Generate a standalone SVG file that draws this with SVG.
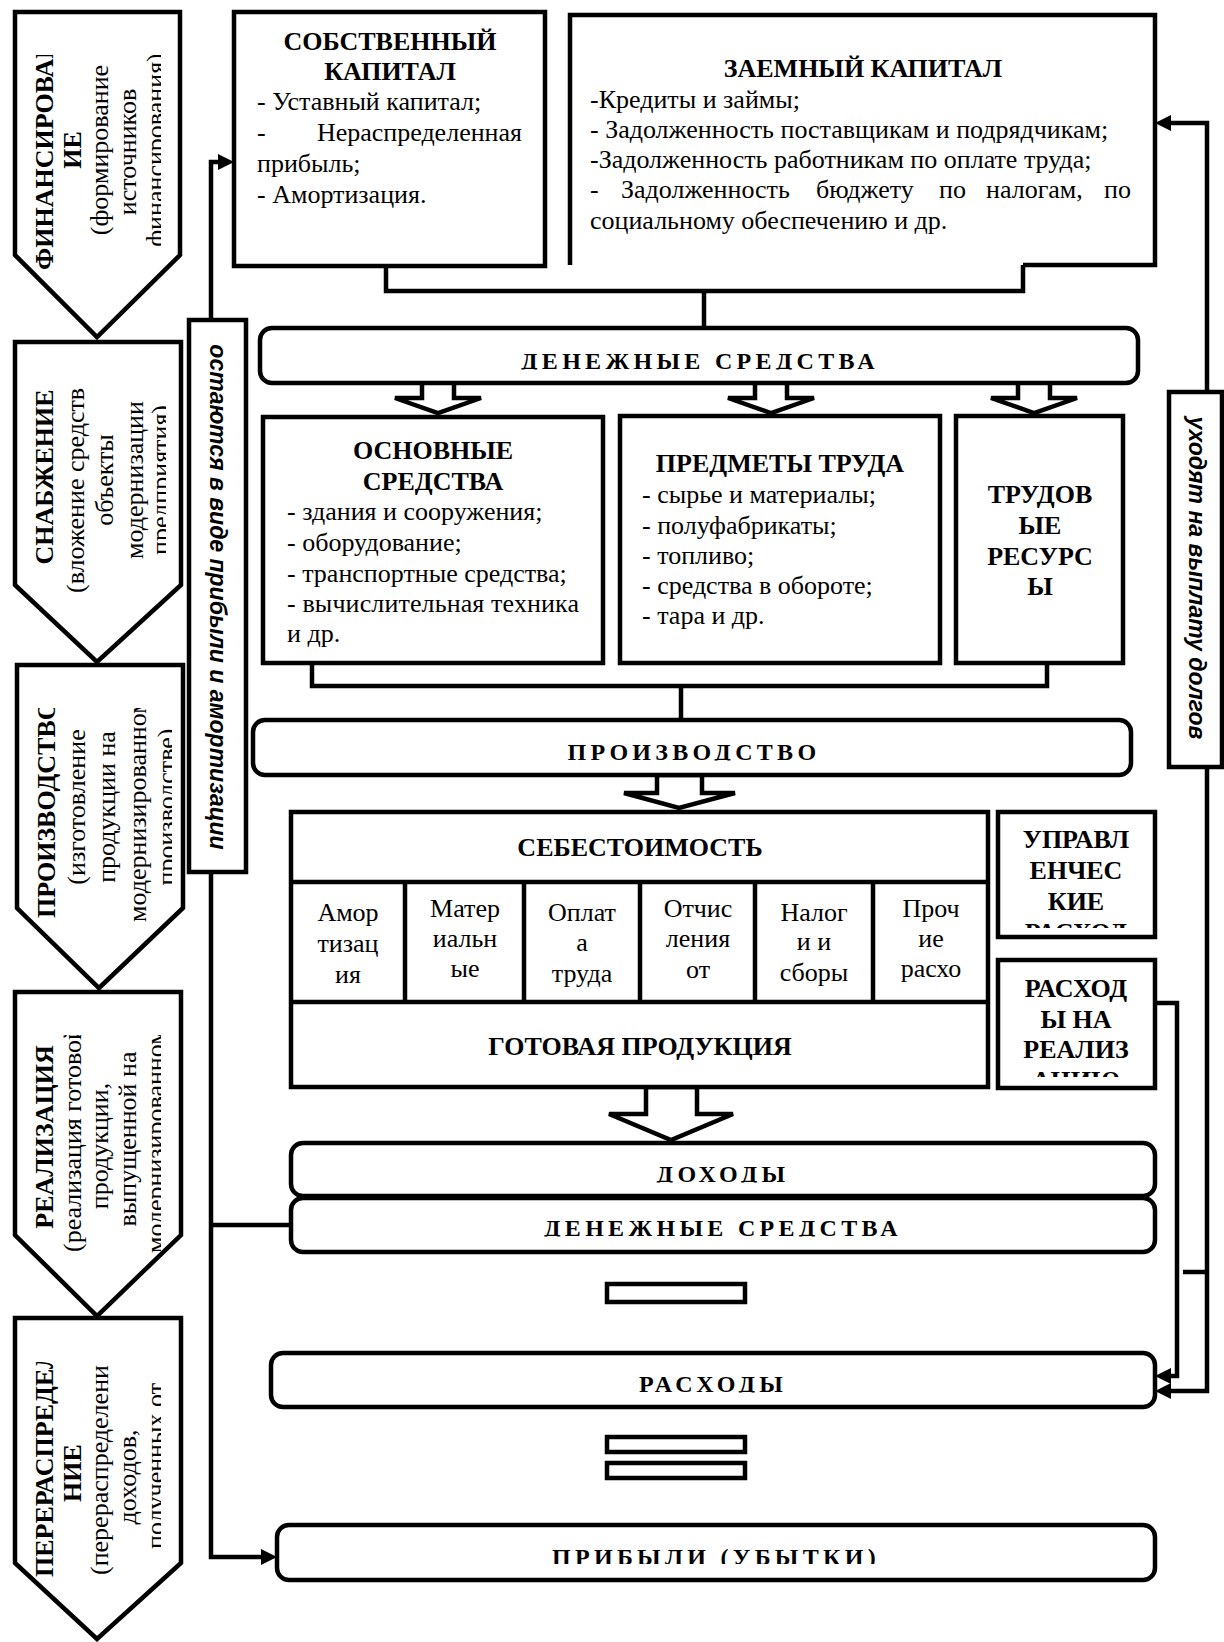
<svg xmlns="http://www.w3.org/2000/svg" width="1224" height="1642" viewBox="0 0 1224 1642">
<style>
.box{fill:#fff;stroke:#000;stroke-width:4.5}
.ln{fill:none;stroke:#000;stroke-width:4.5}
.t{font-family:"Liberation Serif","DejaVu Serif",serif;font-size:26px;fill:#000}
.c{font-size:26px}
.b{font-weight:bold}
.m{text-anchor:middle}
.e{text-anchor:end}
.hd{font-family:"Liberation Serif","DejaVu Serif",serif;font-size:24px;font-weight:bold;letter-spacing:4.3px;text-anchor:middle}
.it{font-family:"Liberation Sans",Arial,sans-serif;font-size:23px;font-weight:bold;font-style:italic;text-anchor:middle}
</style>
<defs>
<marker id="ah" viewBox="0 0 16 16" refX="8" refY="8" markerWidth="16" markerHeight="16" markerUnits="userSpaceOnUse" orient="auto"><path d="M0,0 L16,8 L0,16 Z"/></marker>
<clipPath id="c1"><rect x="15" y="55" width="146" height="285"/></clipPath>
<clipPath id="c2"><rect x="15" y="385" width="151" height="280"/></clipPath>
<clipPath id="c3"><rect x="15" y="708" width="157" height="283"/></clipPath>
<clipPath id="c4"><rect x="15" y="1035" width="146" height="283"/></clipPath>
<clipPath id="c5"><rect x="15" y="1362" width="146" height="280"/></clipPath>
<clipPath id="cu"><rect x="1000" y="814" width="153" height="114"/></clipPath>
<clipPath id="cr"><rect x="1000" y="962" width="153" height="115"/></clipPath>
<clipPath id="hD1"><rect x="260" y="329" width="878" height="40.5"/></clipPath>
<clipPath id="hP"><rect x="254" y="722" width="876" height="38.5"/></clipPath>
<clipPath id="hDx"><rect x="292" y="1145" width="862" height="37.5"/></clipPath>
<clipPath id="hD2"><rect x="292" y="1200" width="862" height="36.5"/></clipPath>
<clipPath id="hR"><rect x="272" y="1354" width="882" height="38.5"/></clipPath>
<clipPath id="hPr"><rect x="278" y="1527" width="876" height="37"/></clipPath>
</defs>

<!-- Left process chevrons -->
<g id="n-financing">
<path class="box" d="M15,12 H180 V255 L97,337 L15,255 Z"/>
<g clip-path="url(#c1)" class="t">
<text class="b" transform="translate(53,270) rotate(-90)">ФИНАНСИРОВАН</text>
<text class="b m" transform="translate(81,150) rotate(-90)">ИЕ</text>
<text class="c m" transform="translate(108,150) rotate(-90)">(формирование</text>
<text class="c m" transform="translate(136,152) rotate(-90)">источников</text>
<text class="c m" transform="translate(164,150) rotate(-90)">финансирования)</text>
</g>
</g>
<g id="n-supply">
<path class="box" d="M15,342 H181 V585 L97,662 L15,585 Z"/>
<g clip-path="url(#c2)" class="t">
<text class="b m" transform="translate(53,477) rotate(-90)">СНАБЖЕНИЕ</text>
<text class="c" transform="translate(84,593) rotate(-90)">(вложение средств</text>
<text class="c m" transform="translate(113,480) rotate(-90)">объекты</text>
<text class="c m" transform="translate(143,480) rotate(-90)">модернизации</text>
<text class="c m" transform="translate(169,480) rotate(-90)">предприятия)</text>
</g>
</g>
<g id="n-production-stage">
<path class="box" d="M17,665 H183 V908 L99,988 L17,908 Z"/>
<g clip-path="url(#c3)" class="t">
<text class="b" transform="translate(55,918) rotate(-90)">ПРОИЗВОДСТВО</text>
<text class="c m" transform="translate(85,807) rotate(-90)">(изготовление</text>
<text class="c m" transform="translate(115,807) rotate(-90)">продукции на</text>
<text class="c" transform="translate(146,922) rotate(-90)">модернизированном</text>
<text class="c m" transform="translate(175,807) rotate(-90)">производстве)</text>
</g>
</g>
<g id="n-sales">
<path class="box" d="M15,992 H181 V1235 L97,1316 L15,1235 Z"/>
<g clip-path="url(#c4)" class="t">
<text class="b m" transform="translate(53,1137) rotate(-90)">РЕАЛИЗАЦИЯ</text>
<text class="c" transform="translate(81,1252) rotate(-90)">(реализация готовой</text>
<text class="c m" transform="translate(108,1146) rotate(-90)">продукции,</text>
<text class="c m" transform="translate(136,1139) rotate(-90)">выпущенной на</text>
<text class="c" transform="translate(164,1253) rotate(-90)">модернизированном</text>
</g>
</g>
<g id="n-redistribution">
<path class="box" d="M15,1318 H181 V1563 L97,1639 L15,1563 Z"/>
<g clip-path="url(#c5)" class="t">
<text class="b" transform="translate(53,1577) rotate(-90)">ПЕРЕРАСПРЕДЕЛЕ</text>
<text class="b m" transform="translate(81,1473) rotate(-90)">НИЕ</text>
<text class="c" transform="translate(108,1575) rotate(-90)">(перераспределени</text>
<text class="c m" transform="translate(136,1477) rotate(-90)">доходов,</text>
<text class="c m" transform="translate(164,1466) rotate(-90)">полученных от</text>
</g>
</g>

<!-- Connectors -->
<g id="connectors">
<path class="ln" d="M211,322 V162 H226" marker-end="url(#ah)"/>
<path class="ln" d="M211,873 V1557 H269" marker-end="url(#ah)"/>
<path class="ln" d="M211,1225 H292"/>
<path class="ln" d="M1207,392 V123 H1163" marker-end="url(#ah)"/>
<path class="ln" d="M1207,767 V1391 H1163" marker-end="url(#ah)"/>
<path class="ln" d="M1155,1003 H1177 V1376 H1163" marker-end="url(#ah)"/>
<path class="ln" d="M1183,1272 H1207"/>
<path class="ln" d="M386,267 V291 H1023 V265"/>
<path class="ln" d="M704,291 V326"/>
<path class="ln" d="M312,663 V686 H1047 V663"/>
<path class="ln" d="M681,686 V719"/>
<polygon class="box" points="422,382 454,382 454,398 481,398 438,413 395,398 422,398"/>
<polygon class="box" points="755,382 787,382 787,398 814,398 771,413 728,398 755,398"/>
<polygon class="box" points="1018,382 1050,382 1050,398 1077,398 1034,413 991,398 1018,398"/>
<polygon class="box" points="657,775 702,775 702,793 735,793 679,808 624,793 657,793"/>
<polygon class="box" points="646,1087 697,1087 697,1114 733,1114 671,1140 609,1114 646,1114"/>
<rect class="box" x="607" y="1284" width="138" height="18"/>
<rect class="box" x="607" y="1437" width="138" height="15"/>
<rect class="box" x="607" y="1463" width="138" height="15"/>
</g>

<!-- Vertical labels -->
<g id="n-retained">
<rect class="box" x="189" y="320" width="57" height="552"/>
<text class="it" transform="translate(210,597) rotate(90)">остаются в виде прибыли и амортизации</text>
</g>
<g id="n-debts">
<rect class="box" x="1169" y="392" width="53" height="375"/>
<text class="it" transform="translate(1189,578) rotate(90)">уходят на выплату долгов</text>
</g>

<!-- Capital -->
<g id="n-equity" class="t">
<rect class="box" x="234" y="12" width="311" height="254"/>
<text class="b m" x="390" y="50">СОБСТВЕННЫЙ</text>
<text class="b m" x="390" y="80">КАПИТАЛ</text>
<text x="257" y="110">- Уставный капитал;</text>
<text x="257" y="141">-</text>
<text class="e" x="522" y="141">Нераспределенная</text>
<text x="257" y="172">прибыль;</text>
<text x="257" y="203">- Амортизация.</text>
</g>
<g id="n-debt-capital" class="t">
<path class="box" d="M570,265 V15 H1155 V265 H1023"/>
<text class="b m" x="863" y="77">ЗАЕМНЫЙ КАПИТАЛ</text>
<text x="590" y="108">-Кредиты и займы;</text>
<text x="590" y="138">- Задолженность поставщикам и подрядчикам;</text>
<text x="590" y="168">-Задолженность работникам по оплате труда;</text>
<text x="590" y="198">-</text>
<text x="621" y="198">Задолженность</text>
<text x="816" y="198">бюджету</text>
<text x="939" y="198">по</text>
<text x="986" y="198">налогам,</text>
<text class="e" x="1131" y="198">по</text>
<text x="590" y="229">социальному обеспечению и др.</text>
</g>

<g id="n-cash1">
<rect class="box" x="260" y="328" width="878" height="55" rx="12"/>
<text class="hd" x="700" y="369" clip-path="url(#hD1)">ДЕНЕЖНЫЕ СРЕДСТВА</text>
</g>

<g id="n-fixed-assets" class="t">
<rect class="box" x="263" y="417" width="340" height="246"/>
<text class="b m" x="433" y="459">ОСНОВНЫЕ</text>
<text class="b m" x="433" y="490">СРЕДСТВА</text>
<text x="287" y="520">- здания и сооружения;</text>
<text x="287" y="551">- оборудование;</text>
<text x="287" y="582">- транспортные средства;</text>
<text x="287" y="612" textLength="292" lengthAdjust="spacing">- вычислительная техника</text>
<text x="287" y="642">и др.</text>
</g>
<g id="n-labor-objects" class="t">
<rect class="box" x="620" y="416" width="320" height="247"/>
<text class="b m" x="780" y="472">ПРЕДМЕТЫ ТРУДА</text>
<text x="642" y="503">- сырье и материалы;</text>
<text x="642" y="534">- полуфабрикаты;</text>
<text x="642" y="564">- топливо;</text>
<text x="642" y="594">- средства в обороте;</text>
<text x="642" y="624">- тара и др.</text>
</g>
<g id="n-labor-resources" class="t">
<rect class="box" x="956" y="416" width="167" height="247"/>
<text class="b m" x="1040" y="503">ТРУДОВ</text>
<text class="b m" x="1040" y="534">ЫЕ</text>
<text class="b m" x="1040" y="565">РЕСУРС</text>
<text class="b m" x="1040" y="595">Ы</text>
</g>

<g id="n-production">
<rect class="box" x="253" y="720" width="878" height="55" rx="12"/>
<text class="hd" x="694" y="760" clip-path="url(#hP)">ПРОИЗВОДСТВО</text>
</g>

<g id="n-cost" class="t">
<rect class="box" x="291" y="812" width="697" height="275"/>
<path class="ln" d="M291,882 H988 M291,1002 H988 M405,882 V1002 M524,882 V1002 M640,882 V1002 M755,882 V1002 M873,882 V1002"/>
<text class="b m" x="640" y="856">СЕБЕСТОИМОСТЬ</text>
<text class="m" x="348" y="921">Амор</text>
<text class="m" x="348" y="952">тизац</text>
<text class="m" x="348" y="983">ия</text>
<text class="m" x="465" y="917">Матер</text>
<text class="m" x="465" y="947">иальн</text>
<text class="m" x="465" y="977">ые</text>
<text class="m" x="582" y="921">Оплат</text>
<text class="m" x="582" y="951">а</text>
<text class="m" x="582" y="982">труда</text>
<text class="m" x="698" y="917">Отчис</text>
<text class="m" x="698" y="947">ления</text>
<text class="m" x="698" y="978">от</text>
<text class="m" x="814" y="921">Налог</text>
<text class="m" x="814" y="950">и и</text>
<text class="m" x="814" y="981">сборы</text>
<text class="m" x="931" y="917">Проч</text>
<text class="m" x="931" y="947">ие</text>
<text class="m" x="931" y="977">расхо</text>
<text class="b m" x="640" y="1055">ГОТОВАЯ ПРОДУКЦИЯ</text>
</g>

<g id="n-admin" class="t">
<rect class="box" x="998" y="812" width="157" height="125"/>
<g clip-path="url(#cu)">
<text class="b m" x="1076" y="848">УПРАВЛ</text>
<text class="b m" x="1076" y="879">ЕНЧЕС</text>
<text class="b m" x="1076" y="910">КИЕ</text>
<text class="b m" x="1076" y="941">РАСХОД</text>
</g>
</g>
<g id="n-selling" class="t">
<rect class="box" x="998" y="960" width="157" height="128"/>
<g clip-path="url(#cr)">
<text class="b m" x="1076" y="997">РАСХОД</text>
<text class="b m" x="1076" y="1028">Ы НА</text>
<text class="b m" x="1076" y="1058">РЕАЛИЗ</text>
<text class="b m" x="1076" y="1089">АЦИЮ</text>
</g>
</g>

<g id="n-income">
<rect class="box" x="291" y="1143" width="864" height="53" rx="12"/>
<text class="hd" x="723" y="1182" clip-path="url(#hDx)">ДОХОДЫ</text>
</g>
<g id="n-cash2">
<rect class="box" x="291" y="1198" width="864" height="54" rx="12"/>
<text class="hd" x="723" y="1236" clip-path="url(#hD2)">ДЕНЕЖНЫЕ СРЕДСТВА</text>
</g>
<g id="n-expenses">
<rect class="box" x="271" y="1353" width="884" height="54" rx="12"/>
<text class="hd" x="713" y="1392" clip-path="url(#hR)">РАСХОДЫ</text>
</g>
<g id="n-profit">
<rect class="box" x="277" y="1525" width="878" height="55" rx="12"/>
<text class="hd" x="716" y="1565" clip-path="url(#hPr)">ПРИБЫЛИ (УБЫТКИ)</text>
</g>
</svg>
